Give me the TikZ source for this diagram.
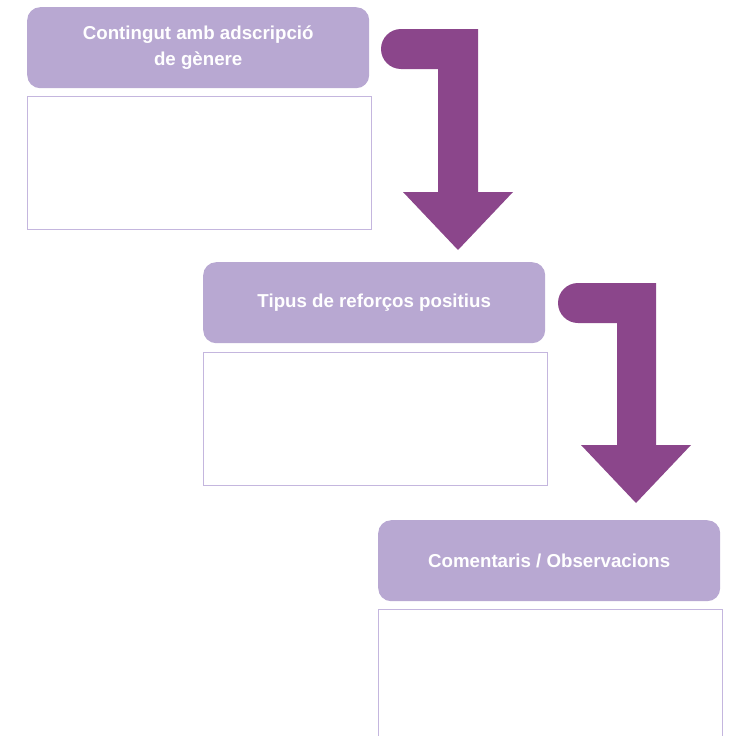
\documentclass[tikz,border=0pt]{standalone}
\usepackage{fontspec}
\setmainfont{Liberation Sans}
\definecolor{hdrfill}{HTML}{B8A8D2}
\definecolor{arrowc}{HTML}{8B468B}
\definecolor{boxline}{HTML}{C4B6DE}
\tikzset{
  header/.style={fill=hdrfill, draw=none, rounded corners=13pt, minimum width=342pt, minimum height=81pt, inner sep=0pt, text=white, font=\fontsize{18.7}{26}\selectfont\bfseries, align=center, anchor=north west},
  answer/.style={draw=boxline, line width=0.9pt, minimum width=344pt, minimum height=133pt, inner sep=0pt, anchor=north west},
  bendarrow/.style={fill=arrowc, draw=none}
}
\begin{document}
\begin{tikzpicture}[x=1pt,y=-1pt]
\useasboundingbox (0,0) rectangle (728,736);
\begin{scope}
\clip (0,0) rectangle (728,736);
\node[header] (h1) at (27,7) {Contingut amb adscripció\\de gènere};
\node[answer] (b1) at (27,96) {};
\node[header] (h2) at (203,262) {Tipus de reforços positius};
\node[answer] (b2) at (203,352) {};
\node[header] (h3) at (378,520) {Comentaris / Observacions};
\node[answer, minimum height=150pt] (b3) at (378,609) {};
% arrow 1
\fill[bendarrow] (401,29) -- (478,29) -- (478,192) -- (513,192) -- (458,250) -- (403,192) -- (438,192) -- (438,69) -- (401,69) arc[start angle=270, end angle=90, radius=20pt] -- cycle;
% arrow 2
\fill[bendarrow] (578,283) -- (656,283) -- (656,445) -- (691,445) -- (636,503) -- (581,445) -- (617,445) -- (617,323) -- (578,323) arc[start angle=270, end angle=90, radius=20pt] -- cycle;
\end{scope}
\end{tikzpicture}
\end{document}
